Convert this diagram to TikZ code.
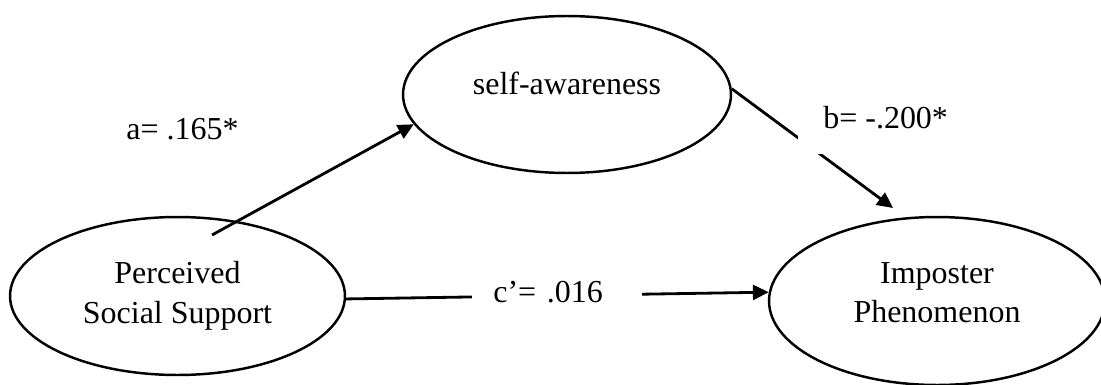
\documentclass[tikz,border=0pt]{standalone}
\usepackage{fontspec}
\setmainfont{Liberation Serif}
\usetikzlibrary{shapes.geometric,arrows.meta}

\begin{document}
\begin{tikzpicture}[
    x=0.02cm, y=-0.02cm,
    var/.style={ellipse, draw, line width=1.4pt, inner sep=0pt, align=center,
        font=\fontsize{18.2}{22.7}\selectfont},
    arr/.style={-{Triangle[length=9pt, width=8.5pt]}, line width=1.6pt},
    coef/.style={font=\fontsize{18.2}{22.7}\selectfont, inner sep=0pt},
]
\useasboundingbox (0,0) rectangle (1101,385);
% variables
\node[var, minimum width=6.7cm, minimum height=3.16cm] (pss) at (177.5,296) {Perceived\\Social Support};
\node[var, minimum width=6.56cm, minimum height=3.14cm, text height=12pt, text depth=12pt] (sa) at (567,94.5) {self-awareness};
\node[var, minimum width=6.72cm, minimum height=3.36cm, text height=33pt, text depth=8pt] (ip) at (937,301) {Imposter\\Phenomenon};
% paths
\coordinate (aStart) at (212,235);
\coordinate (bEnd) at (893,208);
\draw[arr] (aStart) -- (sa.191);
\draw[arr] (sa.2) -- (bEnd);
\draw[arr] (pss.359) -- (ip.177);
% coefficients
\node[coef, anchor=base west] (aLbl) at (126,139) {a= .165*};
\node[coef, anchor=base west, fill=white, inner xsep=0.5cm, inner ysep=0.52cm] (bLbl) at (798,128) {b= -.200*};
\node[coef, anchor=base west, fill=white, inner xsep=0.42cm, inner ysep=0.1cm, text width=2.56cm, align=left] (cLbl) at (472,302) {c’= .016};
\end{tikzpicture}
\end{document}
